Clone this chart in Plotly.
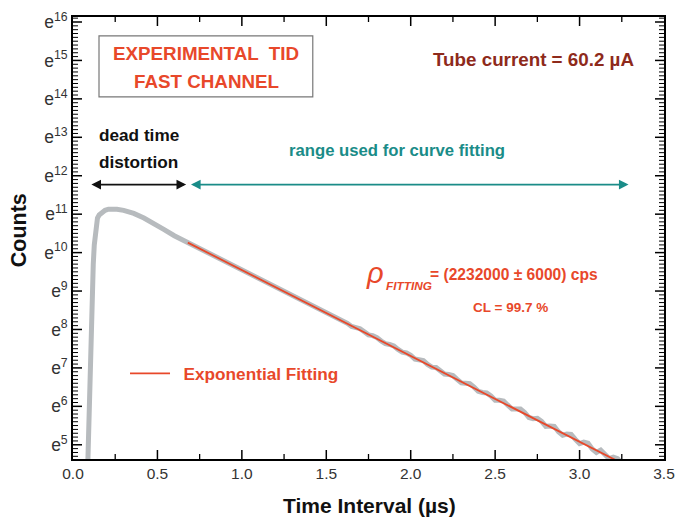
import plotly.graph_objects as go

# ---- data (time in microseconds, ln(counts)) ----
data_t = [0.087, 0.092, 0.097, 0.102, 0.108, 0.114, 0.120, 0.126, 0.132, 0.138, 0.145,
          0.155, 0.170, 0.190, 0.210, 0.235, 0.260, 0.300, 0.360, 0.420, 0.480, 0.540,
          0.600, 0.650,
          0.70, 0.75, 0.80, 0.85, 0.90, 0.95, 1.00, 1.05, 1.10, 1.15, 1.20, 1.25, 1.30,
          1.35, 1.40, 1.45,
          1.500, 1.525, 1.550, 1.575, 1.600, 1.625, 1.650, 1.675, 1.700, 1.725, 1.750,
          1.775, 1.800, 1.825, 1.850, 1.875, 1.900, 1.925, 1.950, 1.975, 2.000, 2.025,
          2.050, 2.075, 2.100, 2.125, 2.150, 2.175, 2.200, 2.225, 2.250, 2.275, 2.300,
          2.325, 2.350, 2.375, 2.400, 2.425, 2.450, 2.475, 2.500, 2.525, 2.550, 2.575,
          2.600, 2.625, 2.650, 2.675, 2.700, 2.725, 2.750, 2.775, 2.800, 2.825, 2.850,
          2.875, 2.900, 2.925, 2.950, 2.975, 3.000, 3.025, 3.050, 3.075, 3.100, 3.125,
          3.150, 3.175, 3.200, 3.225, 3.245]
data_ln = [4.40, 5.40, 6.40, 7.30, 8.20, 9.00, 9.70, 10.20, 10.55, 10.78, 10.90,
           10.98, 11.05, 11.10, 11.13, 11.14, 11.13, 11.10, 11.02, 10.90, 10.76, 10.60,
           10.44, 10.33,
           10.22, 10.10, 10.00, 9.88, 9.78, 9.65, 9.56, 9.43, 9.33, 9.21, 9.11, 8.98, 8.89,
           8.76, 8.67, 8.54,
           8.44, 8.40, 8.32, 8.26, 8.23, 8.16, 8.08, 8.04, 8.02, 7.94, 7.86,
           7.84, 7.79, 7.70, 7.63, 7.61, 7.57, 7.48, 7.41, 7.39, 7.33, 7.23,
           7.22, 7.19, 7.09, 7.02, 7.01, 6.94, 6.84, 6.83, 6.80, 6.70, 6.61,
           6.60, 6.59, 6.50, 6.39, 6.36, 6.35, 6.27, 6.16, 6.16, 6.14, 6.03,
           5.93, 5.93, 5.93, 5.84, 5.71, 5.68, 5.69, 5.61, 5.48, 5.49, 5.48,
           5.34, 5.25, 5.28, 5.27, 5.14, 5.03, 5.07, 5.04, 4.89, 4.80, 4.86,
           4.77, 4.64, 4.68, 4.64, 4.54]

fit_t = [0.68, 3.25]
fit_ln = [10.26, 4.52]

ytick_vals = [5, 6, 7, 8, 9, 10, 11, 12, 13, 14, 15, 16]
ytick_text = ["e<sup>%d</sup>" % v for v in ytick_vals]
xtick_vals = [0, 0.5, 1.0, 1.5, 2.0, 2.5, 3.0, 3.5]
xtick_text = ["0.0", "0.5", "1.0", "1.5", "2.0", "2.5", "3.0", "3.5"]
x_minor = [0.25, 0.75, 1.25, 1.75, 2.25, 2.75, 3.25]
y_minor = [round(4 + k / 10, 2) for k in range(7, 122) if k % 10 != 0]

FONT = "Liberation Sans, Arial, sans-serif"
RED = "#e8482a"
TEAL = "#1a8c88"
GRAY = "#b7bbbe"

fig = go.Figure()
fig.add_trace(go.Scatter(x=data_t, y=data_ln, mode="lines",
                         line=dict(color=GRAY, width=5), showlegend=False,
                         hoverinfo="skip"))
fig.add_trace(go.Scatter(x=fit_t, y=fit_ln, mode="lines",
                         line=dict(color=RED, width=1.8), name="\u2002Exponential Fitting",
                         showlegend=True))

fig.update_layout(
    width=676, height=522,
    margin=dict(l=73, r=12, t=17, b=63),
    paper_bgcolor="white", plot_bgcolor="white",
    font=dict(family=FONT, color="#222"),
    legend=dict(x=0.088, y=0.193, xanchor="left", yanchor="middle",
                bgcolor="rgba(0,0,0,0)",
                font=dict(family=FONT, size=17.2, color=RED, weight="bold"),
                itemwidth=40),
)

fig.update_xaxes(
    range=[0, 3.5], tickmode="array", tickvals=xtick_vals, ticktext=xtick_text,
    ticks="", showline=True, linecolor="black", linewidth=1.6, mirror=True,
    showgrid=False, zeroline=False, automargin=False,
    tickfont=dict(family=FONT, size=15.5, color="#333"),
)
fig.update_yaxes(
    range=[4.63, 16.13], tickmode="array", tickvals=ytick_vals, ticktext=ytick_text,
    ticks="", showline=True, linecolor="black", linewidth=1.6, mirror=True,
    showgrid=False, zeroline=False, automargin=False,
    tickfont=dict(family=FONT, size=17.5, color="#333"),
)

# inside tick marks on all four sides (positioned through the axes, sized in pixels)
TICK = dict(color="black")
def ytick(v, length, width):
    for anchor, a, b in ((0, 0, length), (1, -length, 0)):
        fig.add_shape(type="line", xref="paper", yref="y", xsizemode="pixel", xanchor=anchor,
                      x0=a, x1=b, y0=v, y1=v, line=dict(color="black", width=width),
                      layer="above")
def xtick(v, length, width):
    for anchor, a, b in ((0, 0, length), (1, -length, 0)):
        fig.add_shape(type="line", xref="x", yref="paper", ysizemode="pixel", yanchor=anchor,
                      y0=a, y1=b, x0=v, x1=v, line=dict(color="black", width=width),
                      layer="above")

for v in ytick_vals:
    ytick(v, 9, 1.5)
for v in y_minor:
    ytick(v, 5, 1)
for v in xtick_vals[1:-1]:
    xtick(v, 9, 1.5)
for v in x_minor:
    xtick(v, 5, 1.3)

# axis titles
fig.add_annotation(text="Counts", xref="paper", yref="paper", x=-0.091, y=0.518,
                   textangle=-90, showarrow=False, xanchor="center", yanchor="middle",
                   font=dict(family=FONT, size=21.5, color="#111", weight="bold"))
fig.add_annotation(text="Time Interval (µs)", xref="paper", yref="paper", x=0.501, y=-0.106,
                   showarrow=False, xanchor="center", yanchor="middle",
                   font=dict(family=FONT, size=21, color="#111", weight="bold"))

# box around title text
fig.add_shape(type="rect", xref="x", yref="y", x0=0.154, x1=1.42, y0=14.05, y1=15.64,
              line=dict(color="#777", width=1.2))

def ann(text, x, y, size, color, xanchor="center", italic=False, bold=True):
    fig.add_annotation(x=x, y=y, xref="x", yref="y", text=text, showarrow=False,
                       xanchor=xanchor, yanchor="middle",
                       font=dict(family=FONT, size=size, color=color,
                                 weight="bold" if bold else "normal",
                                 style="italic" if italic else "normal"))

ann("EXPERIMENTAL  TID", 0.79, 15.18, 18.8, RED)
ann("FAST CHANNEL", 0.79, 14.45, 18.8, RED)
ann("Tube current = 60.2 µA", 2.73, 15.02, 18.8, "#8e2a1b")
ann("dead time", 0.145, 13.06, 17.2, "#111", xanchor="left")
ann("distortion", 0.145, 12.36, 17.2, "#111", xanchor="left")
ann("range used for curve fitting", 1.92, 12.66, 16.7, TEAL)
ann("ρ", 1.79, 9.47, 29, RED, italic=True, bold=False)
ann("FITTING", 1.84, 9.14, 11.8, RED, xanchor="left", italic=True)
ann("= (2232000 ± 6000) cps", 2.10, 9.42, 15.6, RED, xanchor="left")
ann("CL = 99.7 %", 2.59, 8.58, 13.5, RED)

# arrows
fig.add_annotation(x=0.67, y=11.77, ax=0.10, ay=11.77, xref="x", yref="y", axref="x", ayref="y",
                   text="", showarrow=True, arrowhead=2, arrowside="end+start",
                   arrowsize=1.2, arrowwidth=1.6, arrowcolor="#111")
fig.add_annotation(x=3.29, y=11.77, ax=0.69, ay=11.77, xref="x", yref="y", axref="x", ayref="y",
                   text="", showarrow=True, arrowhead=2, arrowside="end+start",
                   arrowsize=1.2, arrowwidth=1.6, arrowcolor=TEAL)

fig.write_html("out.html")
